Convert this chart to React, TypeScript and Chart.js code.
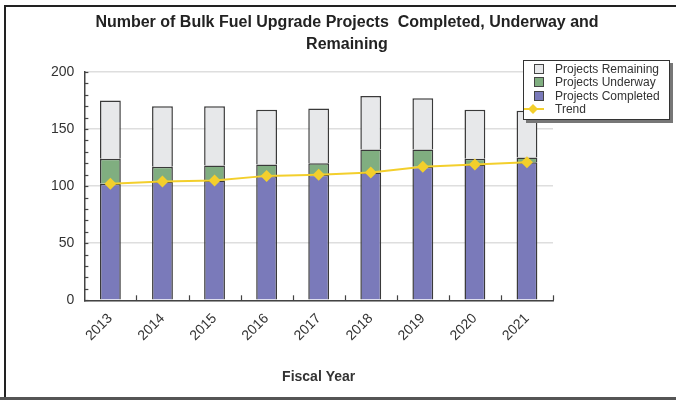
import React, { useEffect, useRef } from "react";
import { Chart, registerables } from "chart.js";
Chart.register(...registerables);

const years = ["2013", "2014", "2015", "2016", "2017", "2018", "2019", "2020", "2021"];
const completed = [102, 104, 105, 109, 110, 112, 117, 119, 121];
const underway = [22, 13, 13, 10, 10, 20, 15, 5, 4];
const remaining = [51, 53, 52, 48, 48, 47, 45, 43, 41];
const trend = [102, 104, 105, 109, 110, 112, 117, 119, 121];
const yMin = 0;
const yMax = 200;
const yStep = 50;
const yMinorStep = 10;

const FONT = '"Liberation Sans", Arial, sans-serif';
const COLORS = {
  remaining: "#e7e8ea",
  underway: "#80ae80",
  completed: "#7a7aba",
  trend: "#f3cf2c",
  border: "#3a3a3a",
};

const minorTicks = {
  id: "minorTicks",
  afterDraw(chart: any) {
    const { ctx, chartArea, scales } = chart;
    const y = scales.y;
    ctx.save();
    ctx.strokeStyle = "#444";
    ctx.lineWidth = 1.2;
    for (let v = yMin; v <= yMax; v += yMinorStep) {
      const py = Math.round(y.getPixelForValue(v)) + 0.5;
      ctx.beginPath();
      ctx.moveTo(chartArea.left, py);
      ctx.lineTo(chartArea.left + 4, py);
      ctx.stroke();
    }
    const n = years.length;
    const w = (chartArea.right - chartArea.left) / n;
    for (let i = 1; i <= n; i++) {
      const px = Math.round(chartArea.left + i * w) + 0.5;
      ctx.beginPath();
      ctx.moveTo(px, chartArea.bottom);
      ctx.lineTo(px, chartArea.bottom - 5);
      ctx.stroke();
    }
    ctx.restore();
  },
};

function Swatch({ color }: { color: string }) {
  return (
    <span
      style={{
        display: "inline-block",
        width: 10,
        height: 10,
        background: color,
        border: "1px solid #444",
        boxSizing: "border-box",
        position: "absolute",
        left: 10,
        top: 2,
      }}
    />
  );
}

export default function App() {
  const ref = useRef<HTMLCanvasElement | null>(null);
  useEffect(() => {
    if (!ref.current) return;
    const chart = new Chart(ref.current, {
      type: "bar",
      data: {
        labels: years,
        datasets: [
          {
            type: "line" as const,
            label: "Trend",
            data: trend,
            stack: "trend",
            borderColor: COLORS.trend,
            backgroundColor: COLORS.trend,
            borderWidth: 2,
            pointStyle: "rectRot",
            pointRadius: 6,
            pointBorderWidth: 0,
            tension: 0,
            order: 0,
          } as any,
          {
            label: "Projects Completed",
            data: completed,
            stack: "bars",
            backgroundColor: COLORS.completed,
            borderColor: COLORS.border,
            borderWidth: 1.5,
            order: 1,
          },
          {
            label: "Projects Underway",
            data: underway,
            stack: "bars",
            backgroundColor: COLORS.underway,
            borderColor: COLORS.border,
            borderWidth: 1.5,
            order: 1,
          },
          {
            label: "Projects Remaining",
            data: remaining,
            stack: "bars",
            backgroundColor: COLORS.remaining,
            borderColor: COLORS.border,
            borderWidth: 1.5,
            order: 1,
          },
        ],
      },
      options: {
        animation: false,
        responsive: false,
        maintainAspectRatio: false,
        layout: { padding: { left: 41, right: 123, top: 72, bottom: 14 } },
        plugins: {
          legend: { display: false },
          title: { display: false },
          tooltip: { enabled: false },
        },
        datasets: { bar: { barPercentage: 0.4, categoryPercentage: 1 } },
        scales: {
          x: {
            stacked: true,
            grid: { display: false, drawTicks: false },
            border: { display: true, color: "#444", width: 1.5 },
            ticks: {
              maxRotation: 45,
              minRotation: 45,
              padding: 10,
              color: "#333",
              font: { family: FONT, size: 14 },
            },
            title: {
              display: true,
              text: "Fiscal Year",
              color: "#333",
              font: { family: FONT, size: 14, weight: "bold" },
              padding: { top: 15, bottom: 0 },
            },
          },
          y: {
            stacked: true,
            min: yMin,
            max: yMax,
            grid: { color: "#dedede", lineWidth: 1.5, drawTicks: false },
            border: { display: true, color: "#444", width: 1.5 },
            ticks: {
              stepSize: yStep,
              padding: 10,
              color: "#333",
              font: { family: FONT, size: 14 },
            },
          },
        },
      },
      plugins: [minorTicks],
    });
    return () => chart.destroy();
  }, []);

  const rowStyle = (top: number): React.CSSProperties => ({
    position: "absolute",
    left: 0,
    top,
    height: 14,
    width: "100%",
  });
  const textStyle: React.CSSProperties = {
    position: "absolute",
    left: 31,
    top: 0,
    lineHeight: "14px",
    whiteSpace: "nowrap",
  };

  return (
    <div style={{ position: "absolute", left: 0, top: 0, width: 676, height: 400, background: "#fff", overflow: "hidden" }}>
      <div
        style={{
          position: "absolute",
          left: 4,
          top: 5,
          width: 700,
          height: 392,
          borderTop: "2px solid #222",
          borderLeft: "2px solid #222",
          boxSizing: "border-box",
        }}
      />
      <div style={{ position: "absolute", left: 0, top: 397, width: 676, height: 3, background: "#555" }} />
      <canvas ref={ref} width={676} height={400} style={{ position: "absolute", left: 0, top: 0 }} />
      <div
        style={{
          position: "absolute",
          left: 0,
          top: 11,
          width: 694,
          textAlign: "center",
          font: `bold 16px ${FONT}`,
          lineHeight: "22px",
          color: "#222",
        }}
      >
        Number of Bulk Fuel Upgrade Projects&nbsp; Completed, Underway and
        <br />
        Remaining
      </div>
      <div
        style={{
          position: "absolute",
          left: 523,
          top: 60,
          width: 145,
          height: 58,
          background: "#fff",
          border: "1px solid #333",
          boxShadow: "3px 3px 0 #777",
          font: `12px ${FONT}`,
          color: "#333",
        }}
      >
        <div style={rowStyle(1)}>
          <Swatch color={COLORS.remaining} />
          <span style={textStyle}>Projects Remaining</span>
        </div>
        <div style={rowStyle(14)}>
          <Swatch color={COLORS.underway} />
          <span style={textStyle}>Projects Underway</span>
        </div>
        <div style={rowStyle(28)}>
          <Swatch color={COLORS.completed} />
          <span style={textStyle}>Projects Completed</span>
        </div>
        <div style={rowStyle(41)}>
          <svg width={22} height={14} style={{ position: "absolute", left: 0, top: 0 }}>
            <line x1={0} y1={7} x2={20} y2={7} stroke={COLORS.trend} strokeWidth={2} />
            <polygon points="9,2 14,7 9,12 4,7" fill={COLORS.trend} />
          </svg>
          <span style={textStyle}>Trend</span>
        </div>
      </div>
    </div>
  );
}
